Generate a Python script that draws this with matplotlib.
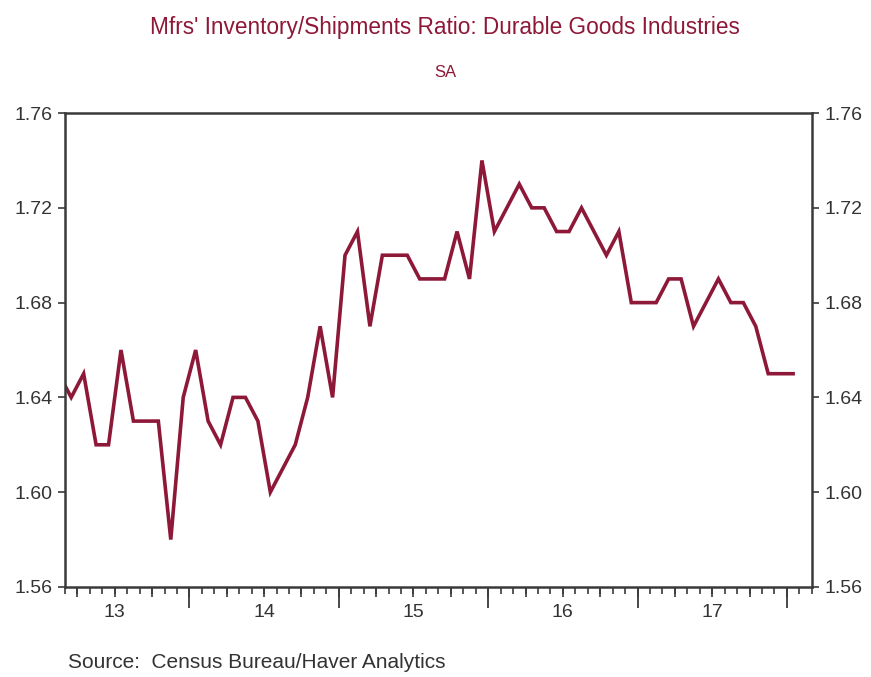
import numpy as np
import pandas as pd
import matplotlib
matplotlib.use("Agg")
from matplotlib import pyplot as plt

plt.rcParams['font.family'] = ['Liberation Sans', 'DejaVu Sans']

# monthly ratio, Feb 2013 .. Jan 2018 (first point sits just left of the plot edge)
start_month = "2013-02"
ratio = [1.65, 1.64, 1.65, 1.62, 1.62, 1.66, 1.63, 1.63, 1.63, 1.58, 1.64,
         1.66, 1.63, 1.62, 1.64, 1.64, 1.63, 1.60, 1.61, 1.62, 1.64, 1.67, 1.64,
         1.70, 1.71, 1.67, 1.70, 1.70, 1.70, 1.69, 1.69, 1.69, 1.71, 1.69, 1.74,
         1.71, 1.72, 1.73, 1.72, 1.72, 1.71, 1.71, 1.72, 1.71, 1.70, 1.71, 1.68,
         1.68, 1.68, 1.69, 1.69, 1.67, 1.68, 1.69, 1.68, 1.68, 1.67, 1.65, 1.65,
         1.65]
year_labels = ["13", "14", "15", "16", "17"]
y_ticks = [1.56, 1.60, 1.64, 1.68, 1.72, 1.76]

title = "Mfrs' Inventory/Shipments Ratio: Durable Goods Industries"
subtitle = "SA"
source = "Source:  Census Bureau/Haver Analytics"

red = "#8e1838"
axis_col = "#3a3a3a"

dates = pd.date_range(start_month, periods=len(ratio), freq="MS")
xs = dates.year + (dates.month - 0.5) / 12.0

fig = plt.figure(figsize=(8.71, 6.77), dpi=100)
ax = fig.add_axes([0.0746, 0.133, 0.8574, 0.700])

ax.plot(xs, ratio, color=red, lw=2.6, solid_joinstyle="miter")

for s in ax.spines.values():
    s.set_color(axis_col)
    s.set_linewidth(1.8)

# y axis: labels on both sides
ax.set_yticks(y_ticks)
ax.set_yticklabels([f"{v:.2f}" for v in y_ticks])
ax.tick_params(axis="y", which="both", left=True, right=True, labelleft=True,
               labelright=True, direction="out", length=5, width=1.2,
               color=axis_col, labelsize=14, labelcolor="#333333", pad=4)

# x axis: year boundaries long, months short, labels in middle of each year
years = np.arange(2014, 2019)
ax.set_xticks(years)
ax.set_xticklabels([])
ax.set_xticks(np.arange(2013, 2018.2, 1 / 12), minor=True)
ax.tick_params(axis="x", which="major", direction="out", length=15, width=1.3,
               color=axis_col)
ax.tick_params(axis="x", which="minor", direction="out", length=5, width=1.2,
               color=axis_col)

quarters = ax.secondary_xaxis("bottom")
quarters.set_xticks(np.arange(2013.25, 2018.2, 0.25))
quarters.set_xticklabels([])
quarters.tick_params(direction="out", length=7, width=1.2, color=axis_col)
quarters.spines["bottom"].set_visible(False)

labels = ax.secondary_xaxis("bottom")
labels.set_xticks(np.arange(2013.5, 2018, 1.0))
labels.set_xticklabels(year_labels)
labels.tick_params(length=0, labelsize=14, labelcolor="#333333", pad=12)
labels.spines["bottom"].set_visible(False)

# limits last, set_xticks would widen them
ax.set_xlim(2013 + 2 / 12, 2018 + 2 / 12)
ax.set_ylim(1.56, 1.76)

fig.text(0.511, 0.960, title, ha="center", va="center", color=red, fontsize=16.3)
fig.text(0.511, 0.893, subtitle, ha="center", va="center", color=red, fontsize=12)
fig.text(0.078, 0.022, source, ha="left", va="center", color="#333333",
         fontsize=15)

fig.savefig("out.png", dpi=100)
